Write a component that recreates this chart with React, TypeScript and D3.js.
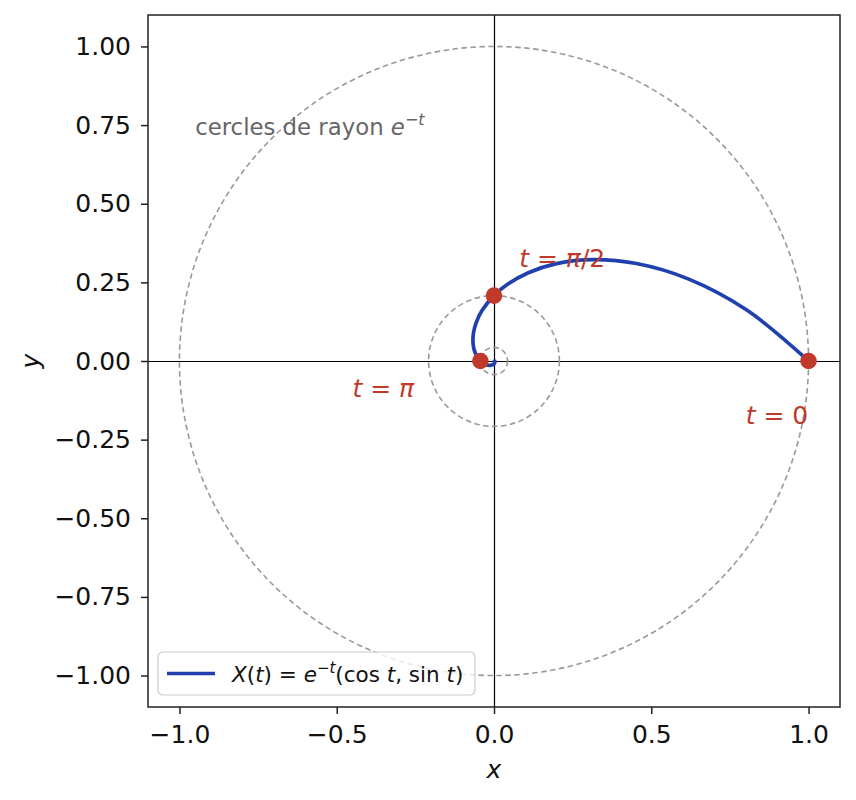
import React, { useEffect, useRef } from 'react';
import * as d3 from 'd3';

// spiral X(t) = e^{-t}(cos t, sin t)
const spiralX = [1, 0.8024, 0.6174, 0.4529, 0.313, 0.1988, 0.1092, 0.0419, 0, -0.0376, -0.0563, -0.0652, -0.0669, -0.0637, -0.0573, -0.0493, -0.0432, -0.0283, -0.012, -0.0023, 0.0019, 0.0029, 0.0024, 0.0019];
const spiralY = [0, 0.1627, 0.261, 0.3099, 0.3223, 0.3096, 0.2807, 0.243, 0.2079, 0.161, 0.1231, 0.0896, 0.0613, 0.0383, 0.0204, 0.007, 0, -0.0106, -0.0139, -0.0109, -0.0065, -0.0029, -0.0007, 0];

// circles of radius e^{-t} for t = 0, pi/2, pi
const circleRadii = [1, 0.2079, 0.0432];

// marked points t = 0, pi/2, pi
const markX = [1, 0, -0.0432];
const markY = [0, 0.2079, 0];

const xTicks = [-1, -0.5, 0, 0.5, 1];
const yTicks = [-1, -0.75, -0.5, -0.25, 0, 0.25, 0.5, 0.75, 1];

const width = 856;
const height = 800;
const margin = { l: 148, r: 16, t: 15, b: 93 };

const BLUE = '#1f40ad';
const RED = '#c0392b';
const FONT = 'DejaVu Sans';

export default function App() {
  const $xAxis: any = useRef(null);
  const $yAxis: any = useRef(null);

  const x = d3.scaleLinear().domain([-1.1, 1.1]).range([margin.l, width - margin.r]);
  const y = d3.scaleLinear().domain([-1.1, 1.1]).range([height - margin.b, margin.t]);

  const line = d3
    .line<number>()
    .x((d) => x(d))
    .y((_, i) => y(spiralY[i]))
    .curve(d3.curveCatmullRom);

  useEffect(() => {
    const xa = d3.axisBottom(x).tickValues(xTicks).tickFormat(d3.format('.1f')).tickSize(7).tickPadding(11).tickSizeOuter(0);
    const ya = d3.axisLeft(y).tickValues(yTicks).tickFormat(d3.format('.2f')).tickSize(7).tickPadding(10).tickSizeOuter(0);
    [d3.select($xAxis.current).call(xa as any), d3.select($yAxis.current).call(ya as any)].forEach((g: any) => {
      g.select('.domain').remove();
      g.selectAll('.tick line').attr('stroke', '#222').attr('stroke-width', 1.5);
      g.selectAll('.tick text').attr('fill', '#111').style('font-family', FONT).style('font-size', '25px');
    });
  }, []);

  const r0 = x(0);
  const it = { fontStyle: 'italic' as const };

  return (
    <svg width={width} height={height} style={{ position: 'absolute', left: 0, top: 0, background: '#fff' }} fontFamily={FONT}>
      <defs>
        <clipPath id="plot">
          <rect x={margin.l} y={margin.t} width={width - margin.l - margin.r} height={height - margin.t - margin.b} />
        </clipPath>
      </defs>
      <g clipPath="url(#plot)">
        {/* axes lines through origin */}
        <line x1={margin.l} x2={width - margin.r} y1={Math.round(y(0)) + 0.5} y2={Math.round(y(0)) + 0.5} stroke="#000" strokeWidth={1.2} />
        <line x1={Math.round(x(0)) + 0.5} x2={Math.round(x(0)) + 0.5} y1={margin.t} y2={height - margin.b} stroke="#000" strokeWidth={1.2} />
        {circleRadii.map((r, i) => (
          <circle key={i} cx={x(0)} cy={y(0)} r={x(r) - r0} fill="none" stroke="#999" strokeWidth={1.6} strokeDasharray="5.5,3.5" />
        ))}
        <path d={line(spiralX) as string} fill="none" stroke={BLUE} strokeWidth={3.7} strokeLinecap="round" />
        {markX.map((v, i) => (
          <circle key={i} cx={x(v)} cy={y(markY[i])} r={8.3} fill={RED} />
        ))}
      </g>

      {/* annotations */}
      <text x={x(-0.95)} y={y(0.72)} fill="#666" fontSize={22.8}>
        cercles de rayon <tspan {...it}>e</tspan>
        <tspan fontSize={16} dy={-10}>−</tspan>
        <tspan fontSize={16} {...it}>t</tspan>
      </text>
      <text x={x(0.08)} y={y(0.3)} fill={RED} fontSize={25}>
        <tspan {...it}>t</tspan> = <tspan {...it}>π</tspan>/2
      </text>
      <text x={x(-0.45)} y={y(-0.115)} fill={RED} fontSize={25}>
        <tspan {...it}>t</tspan> = <tspan {...it}>π</tspan>
      </text>
      <text x={x(0.8)} y={y(-0.2)} fill={RED} fontSize={25}>
        <tspan {...it}>t</tspan> = 0
      </text>

      {/* frame */}
      <rect x={margin.l} y={margin.t} width={width - margin.l - margin.r} height={height - margin.t - margin.b} fill="none" stroke="#222" strokeWidth={1.5} />
      <g ref={$xAxis} transform={`translate(0,${height - margin.b})`} />
      <g ref={$yAxis} transform={`translate(${margin.l},0)`} />

      {/* axis labels */}
      <text x={x(0)} y={778} textAnchor="middle" fontSize={25} fontStyle="italic" fill="#111">x</text>
      <text transform={`translate(39,${y(0)}) rotate(-90)`} textAnchor="middle" fontSize={25} fontStyle="italic" fill="#111">y</text>

      {/* legend */}
      <rect x={158} y={652} width={317} height={43} rx={5} fill="#fff" fillOpacity={0.8} stroke="#ccc" strokeWidth={1.2} />
      <line x1={167} x2={215} y1={673.5} y2={673.5} stroke={BLUE} strokeWidth={3.7} />
      <text x={232} y={682} fontSize={21.5} fill="#111">
        <tspan {...it}>X</tspan>(<tspan {...it}>t</tspan>) = <tspan {...it}>e</tspan>
        <tspan fontSize={15} dy={-9}>−</tspan>
        <tspan fontSize={15} {...it}>t</tspan>
        <tspan dy={9}>(cos </tspan>
        <tspan {...it}>t</tspan>, sin <tspan {...it}>t</tspan>)
      </text>
    </svg>
  );
}
